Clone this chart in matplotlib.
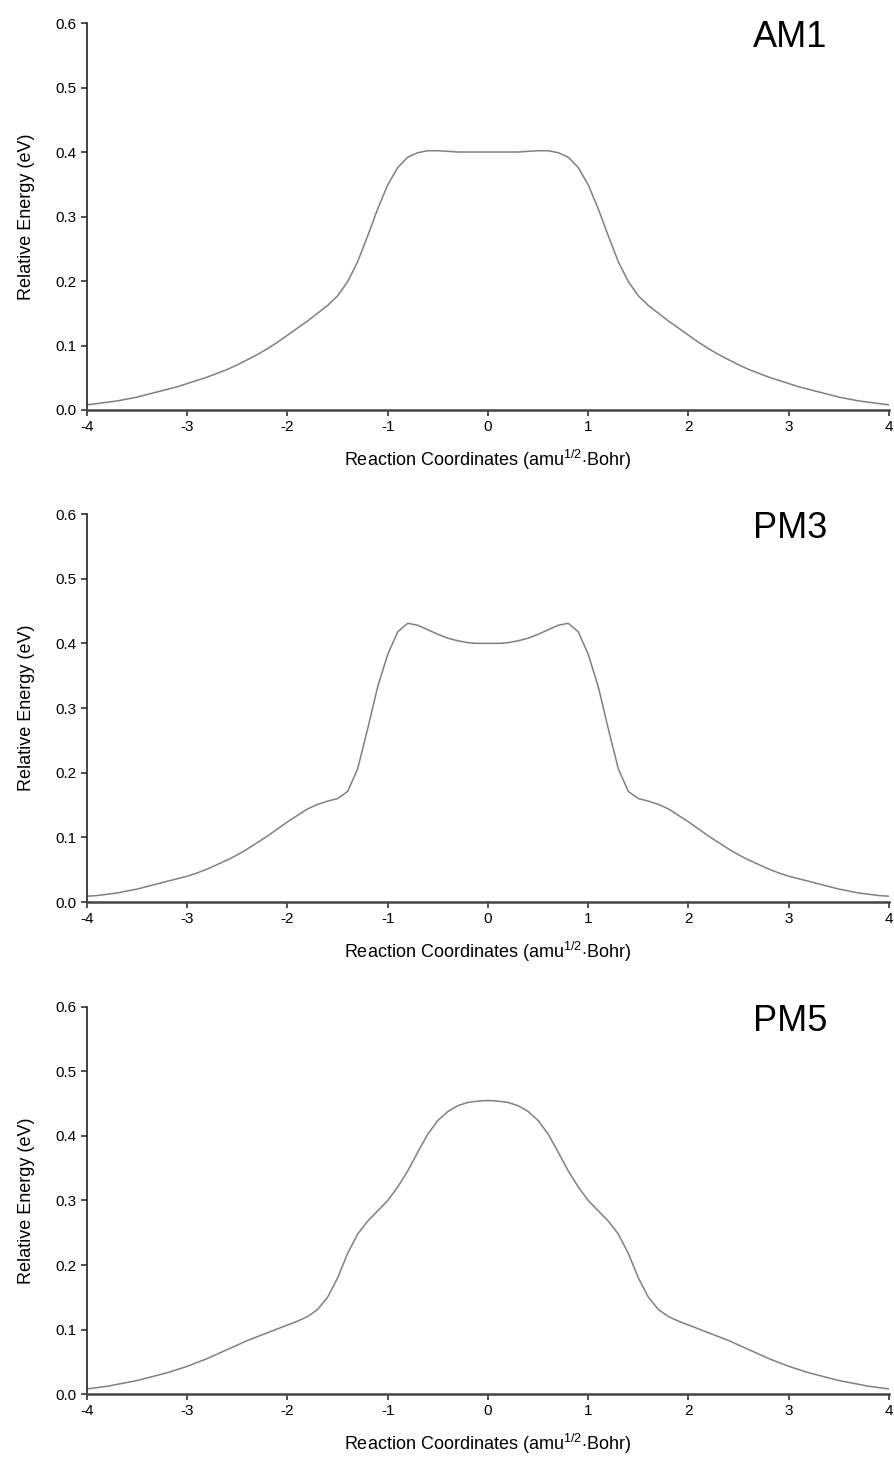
import matplotlib
matplotlib.use('Agg')
import matplotlib.pyplot as plt

plt.rcParams['font.family'] = ['Liberation Sans', 'DejaVu Sans']
plt.rcParams['mathtext.fontset'] = 'custom'
plt.rcParams['mathtext.rm'] = 'Liberation Sans'
plt.rcParams['mathtext.it'] = 'Liberation Sans:italic'

# reaction coordinate grid (amu^1/2 Bohr)
coord = [-4.0, -3.9, -3.8, -3.7, -3.6, -3.5, -3.4, -3.3, -3.2, -3.1,
         -3.0, -2.9, -2.8, -2.7, -2.6, -2.5, -2.4, -2.3, -2.2, -2.1,
         -2.0, -1.9, -1.8, -1.7, -1.6, -1.5, -1.4, -1.3, -1.2, -1.1,
         -1.0, -0.9, -0.8, -0.7, -0.6, -0.5, -0.4, -0.3, -0.2, -0.1,
         0.0, 0.1, 0.2, 0.3, 0.4, 0.5, 0.6, 0.7, 0.8, 0.9,
         1.0, 1.1, 1.2, 1.3, 1.4, 1.5, 1.6, 1.7, 1.8, 1.9,
         2.0, 2.1, 2.2, 2.3, 2.4, 2.5, 2.6, 2.7, 2.8, 2.9,
         3.0, 3.1, 3.2, 3.3, 3.4, 3.5, 3.6, 3.7, 3.8, 3.9, 4.0]

energy_am1 = [0.008, 0.010, 0.012, 0.014, 0.017, 0.020, 0.024, 0.028, 0.032, 0.036,
              0.041, 0.046, 0.051, 0.057, 0.063, 0.070, 0.078, 0.086, 0.095, 0.105,
              0.116, 0.127, 0.138, 0.150, 0.162, 0.177, 0.199, 0.230, 0.270, 0.312,
              0.349, 0.376, 0.392, 0.399, 0.402, 0.402, 0.401, 0.400, 0.400, 0.400,
              0.400, 0.400, 0.400, 0.400, 0.401, 0.402, 0.402, 0.399, 0.392, 0.376,
              0.349, 0.312, 0.270, 0.230, 0.199, 0.177, 0.162, 0.150, 0.138, 0.127,
              0.116, 0.105, 0.095, 0.086, 0.078, 0.070, 0.063, 0.057, 0.051, 0.046,
              0.041, 0.036, 0.032, 0.028, 0.024, 0.020, 0.017, 0.014, 0.012, 0.010, 0.008]

energy_pm3 = [0.009, 0.010, 0.012, 0.014, 0.017, 0.020, 0.024, 0.028, 0.032, 0.036,
              0.040, 0.045, 0.051, 0.058, 0.065, 0.073, 0.082, 0.092, 0.102, 0.113,
              0.124, 0.134, 0.144, 0.151, 0.156, 0.160, 0.171, 0.206, 0.268, 0.333,
              0.383, 0.418, 0.431, 0.428, 0.421, 0.414, 0.408, 0.404, 0.401, 0.400,
              0.400, 0.400, 0.401, 0.404, 0.408, 0.414, 0.421, 0.428, 0.431, 0.418,
              0.383, 0.333, 0.268, 0.206, 0.171, 0.160, 0.156, 0.151, 0.144, 0.134,
              0.124, 0.113, 0.102, 0.092, 0.082, 0.073, 0.065, 0.058, 0.051, 0.045,
              0.040, 0.036, 0.032, 0.028, 0.024, 0.020, 0.017, 0.014, 0.012, 0.010, 0.009]

energy_pm5 = [0.008, 0.010, 0.012, 0.015, 0.018, 0.021, 0.025, 0.029, 0.033, 0.038,
              0.043, 0.049, 0.055, 0.062, 0.069, 0.076, 0.083, 0.089, 0.095, 0.101,
              0.107, 0.113, 0.120, 0.131, 0.150, 0.180, 0.218, 0.248, 0.268, 0.284,
              0.300, 0.321, 0.346, 0.375, 0.403, 0.424, 0.438, 0.447, 0.452, 0.454,
              0.455, 0.454, 0.452, 0.447, 0.438, 0.424, 0.403, 0.375, 0.346, 0.321,
              0.300, 0.284, 0.268, 0.248, 0.218, 0.180, 0.150, 0.131, 0.120, 0.113,
              0.107, 0.101, 0.095, 0.089, 0.083, 0.076, 0.069, 0.062, 0.055, 0.049,
              0.043, 0.038, 0.033, 0.029, 0.025, 0.021, 0.018, 0.015, 0.012, 0.010, 0.008]

methods = ['AM1', 'PM3', 'PM5']
curves = [energy_am1, energy_pm3, energy_pm5]
xticks = [-4, -3, -2, -1, 0, 1, 2, 3, 4]
yticks = [0.0, 0.1, 0.2, 0.3, 0.4, 0.5, 0.6]

fig = plt.figure(figsize=(8.94, 14.57), dpi=100)

# axes boxes in figure fractions [left, bottom, width, height]
boxes = [[0.0973, 0.7186, 0.8971, 0.2656],
         [0.0973, 0.3809, 0.8971, 0.2663],
         [0.0973, 0.0432, 0.8971, 0.2657]]

for name, vals, box in zip(methods, curves, boxes):
    ax = fig.add_axes(box)
    ax.plot(coord, vals, color='#808080', linewidth=1.1, solid_joinstyle='round')
    ax.set_xlim(-4, 4)
    ax.set_ylim(0, 0.6)
    ax.set_xticks(xticks)
    ax.set_xticklabels([str(t) for t in xticks])
    ax.set_yticks(yticks)
    ax.set_yticklabels(['%.1f' % t for t in yticks])
    ax.spines['top'].set_visible(False)
    ax.spines['right'].set_visible(False)
    ax.spines['left'].set_color('#222222')
    ax.spines['left'].set_linewidth(1.2)
    ax.spines['bottom'].set_color('#444444')
    ax.spines['bottom'].set_linewidth(1.8)
    ax.tick_params(direction='out', length=4.5, width=1.1, colors='#222222',
                   labelsize=11, pad=3)
    ax.set_ylabel('Relative Energy (eV)', fontsize=13, labelpad=15)
    ax.set_xlabel(r'Reaction Coordinates (amu$^{\mathrm{1/2}}$$\cdot$Bohr)', fontsize=13, labelpad=10)
    ax.text(0.877, 0.962, name, transform=ax.transAxes, fontsize=26,
            ha='center', va='center', color='black')
    for lab in ax.get_xticklabels() + ax.get_yticklabels():
        lab.set_color('black')

fig.savefig('out.png', dpi=100)
